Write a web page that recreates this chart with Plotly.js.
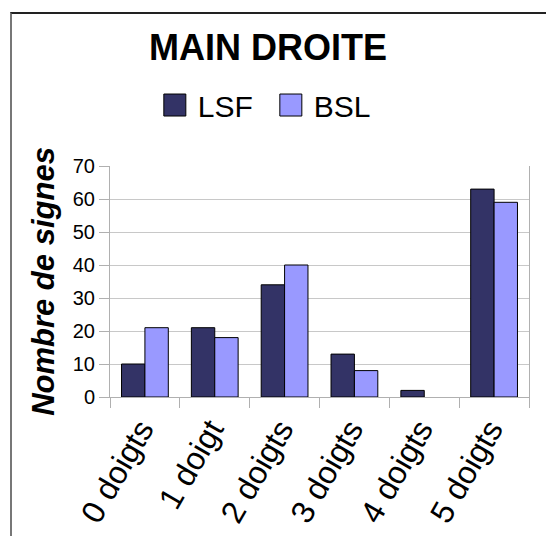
<!DOCTYPE html>
<html>
<head>
<meta charset="utf-8">
<script src="https://cdn.plot.ly/plotly-3.0.1.min.js"></script>
<style>
  html, body { margin: 0; padding: 0; background: #fff; }
  #wrap { position: relative; width: 546px; height: 536px; overflow: hidden; }
  #chart { position: absolute; left: 0; top: 0; width: 546px; height: 536px; }
  #frame { position: absolute; left: 10px; top: 12px; width: 560px; height: 560px;
           border-left: 2px solid #777; border-top: 2px solid #222; pointer-events: none; }
</style>
</head>
<body>
<div id="wrap">
  <div id="chart"></div>
  <div id="frame"></div>
</div>
<script>
const categories = ["0 doigts", "1 doigt", "2 doigts", "3 doigts", "4 doigts", "5 doigts"];
const lsfValues = [10, 21, 34, 13, 2, 63];
const bslValues = [21, 18, 40, 8, null, 59];
const seriesNames = ["LSF", "BSL"];
const yTicks = [0, 10, 20, 30, 40, 50, 60, 70];

const FONT = "Liberation Sans, Arial, sans-serif";

const traces = [
  {
    type: "bar", name: seriesNames[0], x: categories, y: lsfValues,
    marker: { color: "#333366", line: { color: "#000000", width: 1 } }
  },
  {
    type: "bar", name: seriesNames[1], x: categories, y: bslValues,
    marker: { color: "#9999FF", line: { color: "#000000", width: 1 } }
  }
];

const layout = {
  width: 546, height: 536,
  margin: { l: 110, r: 17, t: 166, b: 139, autoexpand: false },
  paper_bgcolor: "rgba(0,0,0,0)",
  plot_bgcolor: "#ffffff",
  font: { family: FONT, color: "#000000" },
  barmode: "group",
  bargap: 0.33,
  bargroupgap: 0,
  title: {
    text: "<b>MAIN DROITE</b>",
    font: { family: FONT, size: 36, color: "#000000" },
    x: 0.491, xanchor: "center", xref: "container",
    y: 0.912, yanchor: "middle", yref: "container"
  },
  showlegend: true,
  legend: {
    orientation: "h",
    x: 0.391, xanchor: "center",
    y: 1.264, yanchor: "middle",
    entrywidth: 71, entrywidthmode: "pixels",
    font: { family: FONT, size: 30, color: "#000000" },
    bgcolor: "rgba(0,0,0,0)",
    traceorder: "normal"
  },
  xaxis: {
    type: "category",
    categoryorder: "array", categoryarray: categories,
    tickson: "boundaries",
    ticks: "outside", ticklen: 10, tickcolor: "#b0b0b0", tickwidth: 1,
    tickangle: -60,
    ticklabelshift: -4,
    tickfont: { family: FONT, size: 32, color: "#000000" },
    showgrid: false,
    showline: true, linecolor: "#b0b0b0", linewidth: 1,
    zeroline: false,
    automargin: false
  },
  yaxis: {
    range: [0, 70],
    tickvals: yTicks,
    ticktext: yTicks.map(String),
    ticks: "outside", ticklen: 10, tickcolor: "#b0b0b0", tickwidth: 1,
    tickfont: { family: FONT, size: 20, color: "#000000" },
    showgrid: true, gridcolor: "#c8c8c8", gridwidth: 1,
    showline: true, mirror: true, linecolor: "#b0b0b0", linewidth: 1,
    zeroline: false,
    automargin: false,
    title: {
      text: "<b><i>Nombre de signes</i></b>",
      font: { family: FONT, size: 31, color: "#000000" },
      standoff: 8
    }
  }
};

Plotly.newPlot("chart", traces, layout, { displayModeBar: false, staticPlot: true }).then(function (gd) {
  // Enlarge legend swatches to match the reference's larger squares
  gd.querySelectorAll(".legend .legendpoints path").forEach(function (p) {
    p.setAttribute("d", "M8,11H-14V-11H8Z");
  });
});
</script>
</body>
</html>
